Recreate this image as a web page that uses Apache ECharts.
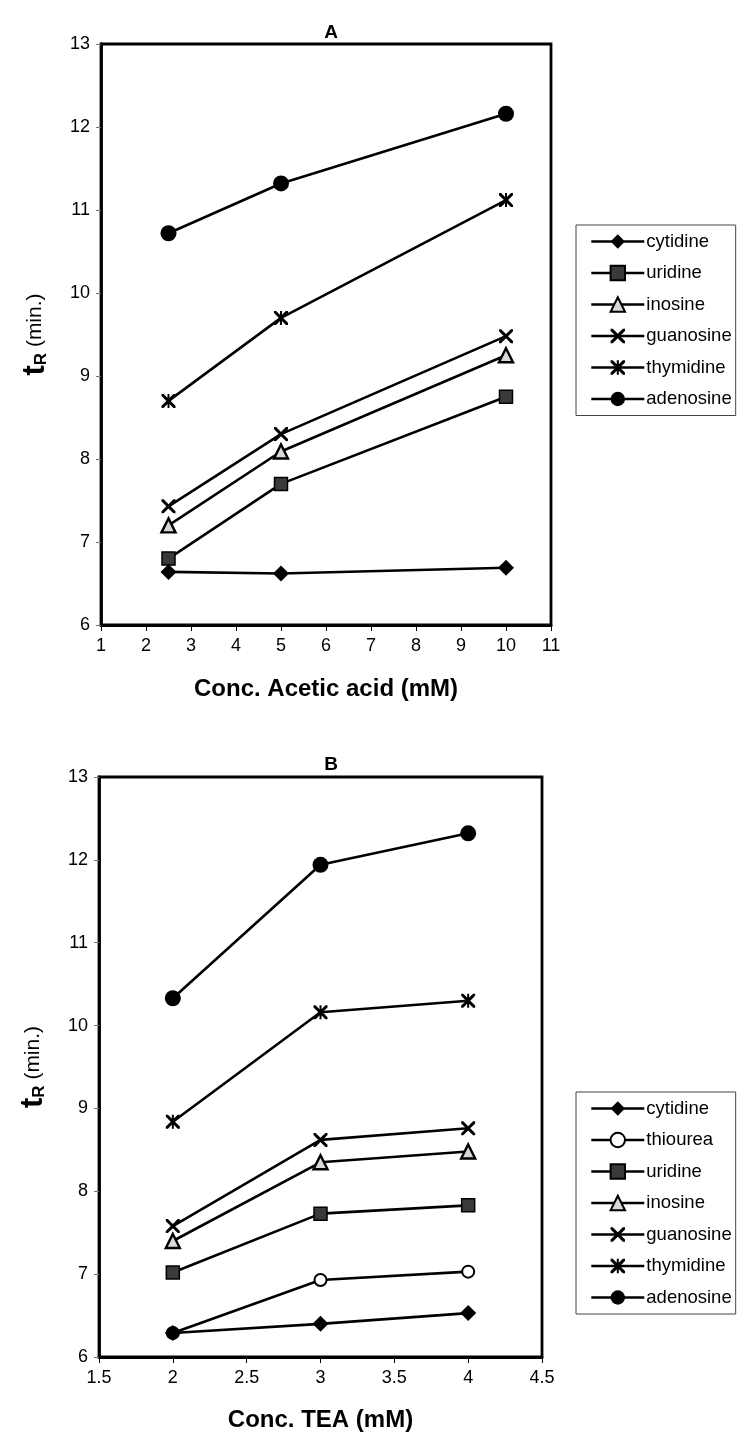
<!DOCTYPE html>
<html>
<head>
<meta charset="utf-8">
<script src="https://cdn.jsdelivr.net/npm/echarts@6/dist/echarts.min.js"></script>
<style>
  html, body { margin: 0; padding: 0; background: #fff; }
  #chart { width: 742px; height: 1443px; }
</style>
</head>
<body>
<div id="chart"></div>
<script>
// Retention time (min) vs mobile-phase additive concentration (mM)

// Panel A: acetic acid concentration
const acidConc = [2.5, 5, 10];
const cytidineA  = [6.64, 6.62, 6.69];
const uridineA   = [6.80, 7.70, 8.75];
const inosineA   = [7.20, 8.09, 9.25];
const guanosineA = [7.43, 8.30, 9.48];
const thymidineA = [8.70, 9.70, 11.12];
const adenosineA = [10.72, 11.32, 12.16];

// Panel B: TEA concentration
const teaConc = [2, 3, 4];
const cytidineB  = [6.29, 6.40, 6.53];
const thioureaB  = [6.29, 6.93, 7.03];
const uridineB   = [7.02, 7.73, 7.83];
const inosineB   = [7.40, 8.35, 8.48];
const guanosineB = [7.58, 8.62, 8.76];
const thymidineB = [8.84, 10.16, 10.30];
const adenosineB = [10.33, 11.94, 12.32];

// Axis ranges
const xTicksA = { min: 1, max: 11, interval: 1 };
const xTicksB = { min: 1.5, max: 4.5, interval: 0.5 };
const yTicks  = { min: 6, max: 13, interval: 1 };

const namesA = ['cytidine', 'uridine', 'inosine', 'guanosine', 'thymidine', 'adenosine'];
const namesB = ['cytidine', 'thiourea', 'uridine', 'inosine', 'guanosine', 'thymidine', 'adenosine'];

// Marker shapes
const X_BODY = 'M0,0L3,0L10,7L17,0L20,0L20,3L13,10L20,17L20,20L17,20L10,13L3,20L0,20L0,17L7,10L0,3Z';
const X_PATH = 'path://' + X_BODY;
const STAR_PATH = 'path://' + X_BODY + 'M8.6,0L11.4,0L11.4,20L8.6,20Z';

const markerStyle = {
  cytidine:  { symbol: 'diamond',   symbolSize: 16, z: 4, itemStyle: { color: '#000' } },
  thiourea:  { symbol: 'circle',    symbolSize: 12, z: 3, itemStyle: { color: '#fff', borderColor: '#000', borderWidth: 2 } },
  uridine:   { symbol: 'rect',      symbolSize: 13, z: 3, itemStyle: { color: '#3a3a3a', borderColor: '#000', borderWidth: 1.5 } },
  inosine:   { symbol: 'triangle',  symbolSize: 14, z: 3, itemStyle: { color: '#d8d8d8', borderColor: '#000', borderWidth: 2.4 } },
  guanosine: { symbol: X_PATH,      symbolSize: 14, z: 3, itemStyle: { color: '#000' } },
  thymidine: { symbol: STAR_PATH,   symbolSize: 14, z: 3, itemStyle: { color: '#000' } },
  adenosine: { symbol: 'circle',    symbolSize: 16, z: 3, itemStyle: { color: '#000' } }
};

function makeSeries(name, xs, ys, idx) {
  const st = markerStyle[name];
  return {
    name: name,
    type: 'line',
    xAxisIndex: idx,
    yAxisIndex: idx,
    z: st.z,
    data: xs.map((x, i) => [x, ys[i]]),
    symbol: st.symbol,
    symbolSize: st.symbolSize,
    showAllSymbol: true,
    itemStyle: st.itemStyle,
    lineStyle: { color: '#000', width: 2.6 },
    emphasis: { disabled: true },
    animation: false
  };
}

const FONT = 'Liberation Sans, Arial, sans-serif';

function makeX(idx, ticks, name, gap) {
  return {
    type: 'value', gridIndex: idx,
    min: ticks.min, max: ticks.max, interval: ticks.interval,
    name: name, nameLocation: 'middle', nameGap: gap,
    nameTextStyle: { fontFamily: FONT, fontSize: 24, fontWeight: 'bold', color: '#000' },
    axisLine: { show: true, lineStyle: { color: '#000', width: 2.8 } },
    axisTick: { show: true, inside: false, length: 6, lineStyle: { color: '#000', width: 1 } },
    axisLabel: { fontFamily: FONT, fontSize: 18, color: '#000', margin: 12 },
    splitLine: { show: false }
  };
}

function makeY(idx) {
  return {
    type: 'value', gridIndex: idx,
    min: yTicks.min, max: yTicks.max, interval: yTicks.interval,
    name: '{t|t}{r|R}{m| (min.)}', nameLocation: 'middle', nameGap: 50, nameRotate: 90,
    nameTextStyle: {
      color: '#000',
      rich: {
        t: { fontFamily: FONT, fontSize: 31, fontWeight: 'bold', color: '#000' },
        r: { fontFamily: FONT, fontSize: 17, fontWeight: 'bold', color: '#000', padding: [12, 0, 0, 0] },
        m: { fontFamily: FONT, fontSize: 21, color: '#000' }
      }
    },
    axisLine: { show: true, lineStyle: { color: '#000', width: 2.8 } },
    axisTick: { show: true, length: 5, lineStyle: { color: '#777', width: 1 } },
    axisLabel: { fontFamily: FONT, fontSize: 18, color: '#000', margin: 11 },
    splitLine: { show: false }
  };
}

function makeLegend(names, top) {
  return {
    data: names,
    orient: 'vertical',
    left: 576, top: top,
    padding: [7, 4, 7, 14],
    itemWidth: 53, itemHeight: 18, itemGap: 12.5,
    textStyle: { fontFamily: FONT, fontSize: 18.5, color: '#000', padding: [0, 0, 0, -3] },
    lineStyle: { width: 2.6, color: '#000' },
    borderColor: '#444', borderWidth: 1,
    selectedMode: false
  };
}

const seriesA = [
  makeSeries('cytidine', acidConc, cytidineA, 0),
  makeSeries('uridine', acidConc, uridineA, 0),
  makeSeries('inosine', acidConc, inosineA, 0),
  makeSeries('guanosine', acidConc, guanosineA, 0),
  makeSeries('thymidine', acidConc, thymidineA, 0),
  makeSeries('adenosine', acidConc, adenosineA, 0)
];
const seriesB = [
  makeSeries('cytidine', teaConc, cytidineB, 1),
  makeSeries('thiourea', teaConc, thioureaB, 1),
  makeSeries('uridine', teaConc, uridineB, 1),
  makeSeries('inosine', teaConc, inosineB, 1),
  makeSeries('guanosine', teaConc, guanosineB, 1),
  makeSeries('thymidine', teaConc, thymidineB, 1),
  makeSeries('adenosine', teaConc, adenosineB, 1)
];

const chart = echarts.init(document.getElementById('chart'), null, { renderer: 'canvas' });
chart.setOption({
  backgroundColor: '#fff',
  animation: false,
  title: [
    { text: 'A', left: 326, top: 18, textAlign: 'center',
      textStyle: { fontFamily: FONT, fontSize: 19, fontWeight: 'bold', color: '#000' } },
    { text: 'B', left: 326, top: 750, textAlign: 'center',
      textStyle: { fontFamily: FONT, fontSize: 19, fontWeight: 'bold', color: '#000' } }
  ],
  grid: [
    { left: 101, top: 44, width: 450, height: 581, show: true, borderColor: '#000', borderWidth: 2.8, backgroundColor: 'transparent' },
    { left: 99, top: 777, width: 443, height: 580, show: true, borderColor: '#000', borderWidth: 2.8, backgroundColor: 'transparent' }
  ],
  xAxis: [
    makeX(0, xTicksA, 'Conc. Acetic acid (mM)', 52),
    makeX(1, xTicksB, 'Conc. TEA (mM)', 51)
  ],
  yAxis: [makeY(0), makeY(1)],
  legend: [makeLegend(namesA, 225), makeLegend(namesB, 1092)],
  series: seriesA.concat(seriesB)
});
</script>
</body>
</html>
